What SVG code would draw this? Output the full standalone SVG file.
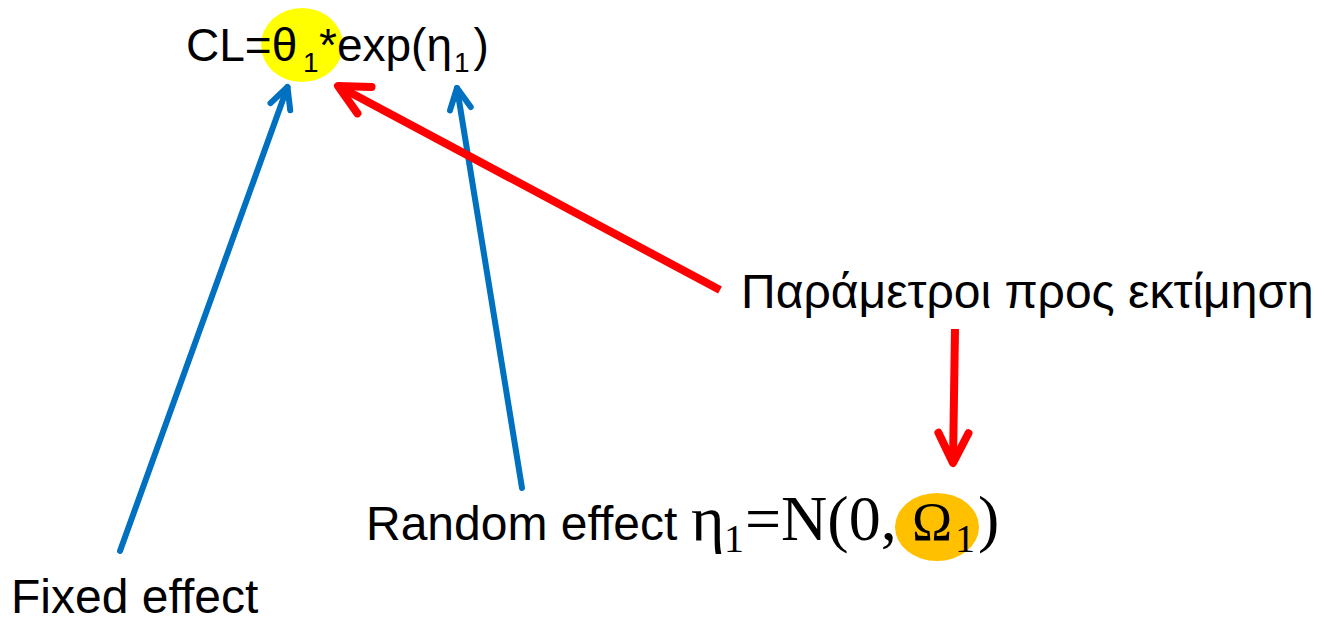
<svg xmlns="http://www.w3.org/2000/svg" width="1328" height="624" viewBox="0 0 1328 624">
<style>
.sans{font-family:"Liberation Sans",Arial,sans-serif;fill:#000}
.serif{font-family:"Liberation Serif","Times New Roman",serif;fill:#000}
.blue{fill:none;stroke:#0070C0;stroke-width:6;stroke-linecap:round}
.red{fill:none;stroke:#FF0000;stroke-width:8;stroke-linecap:butt}
</style>
<defs>
<marker id="hb" markerUnits="userSpaceOnUse" viewBox="-30 -20 40 40" markerWidth="40" markerHeight="40" refX="0" refY="0" orient="auto" overflow="visible">
<path d="M-21,-10.5 L0,0 L-21,10.5" fill="none" stroke="#0070C0" stroke-width="6" stroke-linecap="round" stroke-linejoin="round"/>
</marker>
<marker id="hr" markerUnits="userSpaceOnUse" viewBox="-40 -25 50 50" markerWidth="50" markerHeight="50" refX="0" refY="0" orient="auto" overflow="visible">
<path d="M-30,-15 L0,0 L-30,15" fill="none" stroke="#FF0000" stroke-width="8" stroke-linecap="round" stroke-linejoin="round"/>
</marker>
</defs>
<g id="formula-cl">
<ellipse cx="302" cy="45" rx="41" ry="37" fill="#FFFF00"/>
<text class="sans" font-size="46" y="61"><tspan x="186">CL=θ</tspan><tspan x="303" y="72" font-size="28">1</tspan><tspan x="319" y="61">*exp(η</tspan><tspan dx="2" y="72" font-size="28">1</tspan><tspan dx="4" y="61">)</tspan></text>
</g>
<g id="label-params">
<text class="sans" font-size="48" x="741" y="308">Παράμετροι προς εκτίμηση</text>
</g>
<g id="label-random">
<ellipse cx="937" cy="527" rx="42" ry="34" fill="#FFC000"/>
<text class="sans" font-size="48" y="540"><tspan x="366">Random effect</tspan><tspan class="serif" x="691" font-size="64">η</tspan><tspan class="serif" x="724" y="552" font-size="40">1</tspan><tspan class="serif" x="745" y="540" font-size="64">=N(0,</tspan><tspan class="serif" x="912" font-size="54">Ω</tspan><tspan class="serif" x="955" y="552" font-size="40">1</tspan><tspan class="serif" x="978" y="540" font-size="64">)</tspan></text>
</g>
<g id="label-fixed">
<text class="sans" font-size="48" x="11" y="613">Fixed effect</text>
</g>
<g id="connectors">
<line class="blue" x1="120" y1="551" x2="287.5" y2="87" marker-end="url(#hb)"/>
<line class="blue" x1="522" y1="488" x2="457" y2="88" marker-end="url(#hb)"/>
<line class="red" x1="720" y1="290" x2="338" y2="86" marker-end="url(#hr)"/>
<line class="red" x1="955" y1="329" x2="953" y2="463" marker-end="url(#hr)"/>
</g>
</svg>
